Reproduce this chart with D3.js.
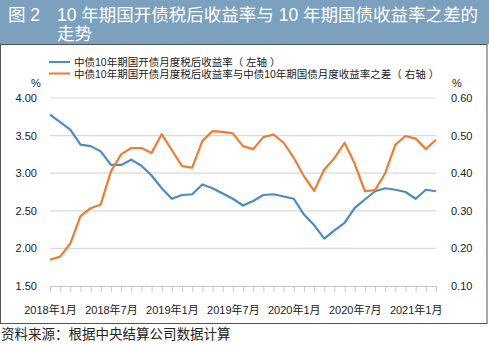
<!DOCTYPE html>
<html>
<head>
<meta charset="utf-8">
<script src="https://cdn.jsdelivr.net/npm/d3@7"></script>
<style>
  body { margin: 0; background: #fff; }
  text { font-family: "Liberation Sans", "Noto Sans CJK SC", sans-serif; }
</style>
</head>
<body>
<div id="viz"></div>
<script>
// months Jan 2018 .. Mar 2021
const months = d3.range(39).map(i => {
  const y = 2018 + Math.floor(i / 12), m = i % 12 + 1;
  return y + '年' + m + '月';
});
// left axis: 中债10年期国开债月度税后收益率
const cdb_after_tax = [3.78, 3.68, 3.58, 3.38, 3.36, 3.29, 3.11, 3.11, 3.18, 3.10,
  2.97, 2.80, 2.66, 2.71, 2.72, 2.85, 2.80, 2.73, 2.66, 2.57,
  2.63, 2.71, 2.72, 2.69, 2.66, 2.45, 2.31, 2.13, 2.24, 2.34,
  2.54, 2.65, 2.76, 2.80, 2.78, 2.75, 2.66, 2.78, 2.76];
// right axis: spread vs 10y treasury
const spread = [0.170, 0.178, 0.213, 0.286, 0.307, 0.317, 0.405, 0.450, 0.467, 0.467,
  0.454, 0.504, 0.461, 0.419, 0.415, 0.486, 0.512, 0.510, 0.506, 0.472,
  0.464, 0.496, 0.503, 0.481, 0.441, 0.392, 0.353, 0.410, 0.440, 0.481,
  0.425, 0.352, 0.355, 0.400, 0.476, 0.499, 0.492, 0.464, 0.489];
const left_ticks = [1.5, 2.0, 2.5, 3.0, 3.5, 4.0];
const right_ticks = [0.1, 0.2, 0.3, 0.4, 0.5, 0.6];
const legend_labels = ['中债10年期国开债月度税后收益率（ 左轴 ）',
  '中债10年期国开债月度税后收益率与中债10年期国债月度收益率之差（ 右轴 ）'];
const colors = ['#4a8bc9', '#ed7d31'];

const W = 489, H = 345;
const plot = { left: 50, right: 436, top: 98, bottom: 286 };

const svg = d3.select('#viz').append('svg').attr('width', W).attr('height', H);

// title bar
svg.append('rect').attr('x', 0).attr('y', 0).attr('width', W).attr('height', 44).attr('fill', '#7ba1bf');
svg.append('text').attr('x', 8).attr('y', 21).attr('fill', '#fff').attr('font-size', 17.5).text('图 2');
svg.append('text').attr('x', 57).attr('y', 21).attr('fill', '#fff').attr('font-size', 17.5)
  .text('10 年期国开债税后收益率与 10 年期国债收益率之差的');
svg.append('text').attr('x', 57).attr('y', 40).attr('fill', '#fff').attr('font-size', 17.5).text('走势');

// frame
svg.append('rect').attr('x', 0.5).attr('y', 44.5).attr('width', 486.5).attr('height', 279)
  .attr('fill', 'none').attr('stroke', '#555').attr('stroke-width', 1);

const x = d3.scalePoint().domain(months).range([plot.left, plot.right]);
const yL = d3.scaleLinear().domain([1.5, 4.0]).range([plot.bottom, plot.top]);
const yR = d3.scaleLinear().domain([0.1, 0.6]).range([plot.bottom, plot.top]);

// gridlines
svg.append('g').selectAll('line').data(left_ticks.slice(1)).join('line')
  .attr('x1', plot.left).attr('x2', plot.right)
  .attr('y1', d => yL(d)).attr('y2', d => yL(d))
  .attr('stroke', '#d9d9d9').attr('stroke-width', 1.2);

// bottom axis
const xAxis = d3.axisBottom(x).tickSize(6)
  .tickFormat((d, i) => i % 6 === 0 ? d : '');
const gx = svg.append('g').attr('transform', `translate(0,${plot.bottom})`).call(xAxis);
gx.select('.domain').attr('stroke', '#c9c9c9').attr('d', `M${plot.left},0.5H${plot.right}`);
gx.selectAll('.tick line').attr('stroke', '#c9c9c9');
gx.selectAll('.tick text').attr('font-size', 11).attr('fill', '#222').attr('dy', 0).attr('y', 28);

// left axis labels
const gl = svg.append('g').attr('transform', `translate(37,0)`)
  .call(d3.axisLeft(yL).tickValues(left_ticks).tickFormat(d3.format('.2f')).tickSize(0));
gl.select('.domain').remove();
gl.selectAll('text').attr('font-size', 11).attr('fill', '#222').attr('x', 0);

const gr = svg.append('g').attr('transform', `translate(451,0)`)
  .call(d3.axisRight(yR).tickValues(right_ticks).tickFormat(d3.format('.2f')).tickSize(0));
gr.select('.domain').remove();
gr.selectAll('text').attr('font-size', 11).attr('fill', '#222').attr('x', 0);

svg.append('text').attr('x', 31).attr('y', 87).attr('font-size', 11).attr('fill', '#222').text('%');
svg.append('text').attr('x', 452).attr('y', 87).attr('font-size', 11).attr('fill', '#222').text('%');

// lines
const lineL = d3.line().x((d, i) => x(months[i])).y(d => yL(d));
const lineR = d3.line().x((d, i) => x(months[i])).y(d => yR(d));
svg.append('path').datum(cdb_after_tax).attr('d', lineL)
  .attr('fill', 'none').attr('stroke', colors[0]).attr('stroke-width', 2.2).attr('stroke-linejoin', 'round');
svg.append('path').datum(spread).attr('d', lineR)
  .attr('fill', 'none').attr('stroke', colors[1]).attr('stroke-width', 2.2).attr('stroke-linejoin', 'round');

// legend
const lg = svg.append('g').selectAll('g').data(legend_labels).join('g')
  .attr('transform', (d, i) => `translate(49,${62 + i * 11.5})`);
lg.append('line').attr('x1', 0).attr('x2', 21).attr('stroke', (d, i) => colors[i]).attr('stroke-width', 2);
lg.append('text').attr('x', 25).attr('y', 4).attr('font-size', 10.5).attr('fill', '#222').text(d => d);

// source
svg.append('text').attr('x', 1).attr('y', 339).attr('font-size', 13.5).attr('fill', '#222')
  .text('资料来源：根据中央结算公司数据计算');
</script>
</body>
</html>
